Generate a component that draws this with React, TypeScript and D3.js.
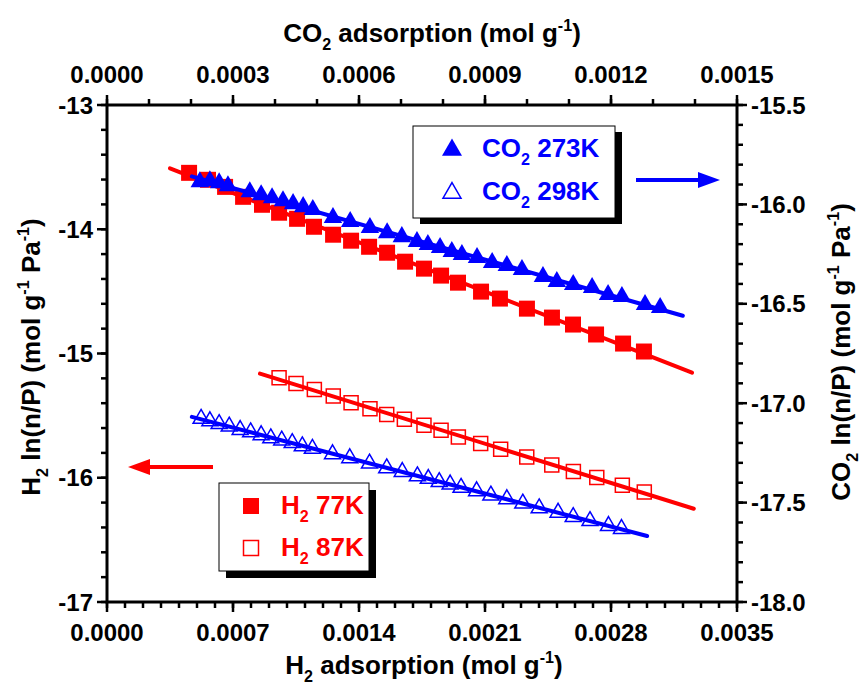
import React from 'react';
import * as d3 from 'd3';

const W = 866;
const H = 688;
const PL = 107, PR = 737, PT = 105, PB = 602;
const FONT = '"Liberation Sans", Arial, Helvetica, sans-serif';

// ---- tick labels ----
const bottomTicks = [0, 0.0007, 0.0014, 0.0021, 0.0028, 0.0035];
const bottomTickLabels = ['0.0000', '0.0007', '0.0014', '0.0021', '0.0028', '0.0035'];
const topTicks = [0, 0.0003, 0.0006, 0.0009, 0.0012, 0.0015];
const topTickLabels = ['0.0000', '0.0003', '0.0006', '0.0009', '0.0012', '0.0015'];
const leftTicks = [-13, -14, -15, -16, -17];
const leftTickLabels = ['-13', '-14', '-15', '-16', '-17'];
const rightTicks = [-15.5, -16.0, -16.5, -17.0, -17.5, -18.0];
const rightTickLabels = ['-15.5', '-16.0', '-16.5', '-17.0', '-17.5', '-18.0'];

// ---- H2 77K (bottom x, left y) ----
const h2_77_x = [0.000456, 0.000561, 0.000656, 0.000756, 0.000861, 0.000956, 0.001056, 0.00115, 0.001256, 0.001356, 0.001456, 0.001556, 0.001656, 0.001761, 0.001856, 0.00195, 0.002078, 0.002183, 0.002333, 0.002472, 0.002589, 0.002717, 0.002867, 0.002983];
const h2_77_y = [-13.546, -13.602, -13.659, -13.739, -13.803, -13.867, -13.916, -13.98, -14.044, -14.092, -14.141, -14.189, -14.261, -14.317, -14.373, -14.43, -14.502, -14.558, -14.639, -14.711, -14.767, -14.847, -14.92, -14.984];
const h2_77_fit = [0.00035, 0.00325];

// ---- H2 87K (bottom x, left y) ----
const h2_87_x = [0.000956, 0.00105, 0.001152, 0.001257, 0.001356, 0.001461, 0.001554, 0.001652, 0.001761, 0.001856, 0.001952, 0.002076, 0.002187, 0.002332, 0.002471, 0.002591, 0.002721, 0.002863, 0.002985];
const h2_87_y = [-15.195, -15.241, -15.289, -15.343, -15.396, -15.444, -15.49, -15.53, -15.578, -15.618, -15.672, -15.725, -15.771, -15.833, -15.897, -15.95, -15.998, -16.06, -16.114];
const h2_87_fit = [0.00085, 0.00326];

// ---- CO2 273K (top x, right y) ----
const co2_273_x = [0.000221, 0.000245, 0.000267, 0.000288, 0.00034, 0.000367, 0.000393, 0.000419, 0.000443, 0.000467, 0.00049, 0.000538, 0.000579, 0.000626, 0.000667, 0.000702, 0.000738, 0.000764, 0.000793, 0.000821, 0.000845, 0.000881, 0.000917, 0.000952, 0.000988, 0.001038, 0.001071, 0.00111, 0.001155, 0.001193, 0.001226, 0.001281, 0.001317];
const co2_273_y = [-15.887, -15.882, -15.892, -15.907, -15.937, -15.952, -15.967, -15.982, -15.997, -16.012, -16.027, -16.067, -16.087, -16.117, -16.143, -16.163, -16.188, -16.203, -16.218, -16.238, -16.253, -16.268, -16.293, -16.308, -16.328, -16.363, -16.389, -16.404, -16.419, -16.454, -16.464, -16.504, -16.519];
const co2_273_fit = [0.000202, 0.001371];

// ---- CO2 298K (top x, right y) ----
const co2_298_x = [0.000224, 0.000245, 0.000267, 0.000291, 0.000317, 0.000342, 0.000367, 0.00039, 0.000416, 0.000441, 0.000465, 0.000489, 0.000537, 0.000578, 0.000625, 0.000666, 0.000703, 0.000739, 0.000765, 0.000791, 0.000817, 0.000843, 0.00088, 0.000914, 0.000952, 0.00099, 0.001029, 0.001074, 0.00111, 0.00115, 0.001194, 0.001225];
const co2_298_y = [-17.078, -17.09, -17.104, -17.117, -17.134, -17.146, -17.16, -17.176, -17.187, -17.2, -17.216, -17.229, -17.256, -17.276, -17.303, -17.327, -17.345, -17.367, -17.38, -17.396, -17.408, -17.425, -17.442, -17.464, -17.482, -17.504, -17.528, -17.55, -17.572, -17.592, -17.617, -17.632];
const co2_298_fit = [0.000202, 0.001286];

const RED = '#FF0000';
const BLUE = '#0000FF';

const xB = d3.scaleLinear().domain([0, 0.0035]).range([PL, PR]);
const xT = d3.scaleLinear().domain([0, 0.0015]).range([PL, PR]);
const yL = d3.scaleLinear().domain([-17, -13]).range([PB, PT]);
const yR = d3.scaleLinear().domain([-18, -15.5]).range([PB, PT]);

function fitLine(xs: number[], ys: number[]) {
  const mx = d3.mean(xs)!;
  const my = d3.mean(ys)!;
  let sxy = 0, sxx = 0;
  xs.forEach((x, i) => { sxy += (x - mx) * (ys[i] - my); sxx += (x - mx) * (x - mx); });
  const b = sxy / sxx;
  const a = my - b * mx;
  return (x: number) => a + b * x;
}

type Part = { t: string; sub?: boolean; sup?: boolean };

function Rich({ parts, size, ...rest }: { parts: Part[]; size: number; [k: string]: any }) {
  const small = size * 0.62;
  let shift = 0;
  const spans: any[] = [];
  parts.forEach((p, i) => {
    let target = 0;
    if (p.sub) target = size * 0.32;
    if (p.sup) target = -size * 0.42;
    const dy = target - shift;
    shift = target;
    spans.push(
      <tspan key={i} dy={dy} fontSize={p.sub || p.sup ? small : size}>{p.t}</tspan>
    );
  });
  return <text fontFamily={FONT} fontWeight="bold" fontSize={size} {...rest}>{spans}</text>;
}

const tri = (side: number) => d3.symbol().type(d3.symbolTriangle).size(side * side * Math.sqrt(3) / 4)()!;
const sq = (side: number) => d3.symbol().type(d3.symbolSquare).size(side * side)()!;

export default function App() {
  const f77 = fitLine(h2_77_x, h2_77_y);
  const f87 = fitLine(h2_87_x, h2_87_y);
  const f273 = fitLine(co2_273_x, co2_273_y);
  const f298 = fitLine(co2_298_x, co2_298_y);

  const bMinor = d3.range(0, 0.00351, 0.0001);
  const tMinor = d3.range(0, 0.00151, 0.0001);
  const lMinor = d3.range(-17, -12.99, 0.2);
  const rMinor = d3.range(-18, -15.49, 0.1);

  const AX = 3;
  const tickFS = 24;
  const titleFS = 26;

  const triF = tri(18.5);
  const triO = tri(16);
  const sqF = sq(16);
  const sqO = sq(14);

  return (
    <svg width={W} height={H} style={{ position: 'absolute', left: 0, top: 0, background: '#fff' }}>
      <rect x={0} y={0} width={W} height={H} fill="#fff" />

      {/* H2 77K */}
      {h2_77_x.map((x, i) => (
        <path key={'a' + i} d={sqF} transform={`translate(${xB(x)},${yL(h2_77_y[i])})`} fill={RED} />
      ))}
      <line x1={xB(h2_77_fit[0])} y1={yL(f77(h2_77_fit[0]))} x2={xB(h2_77_fit[1])} y2={yL(f77(h2_77_fit[1]))} stroke={RED} strokeWidth={4} strokeLinecap="round" />

      {/* H2 87K */}
      {h2_87_x.map((x, i) => (
        <path key={'b' + i} d={sqO} transform={`translate(${xB(x)},${yL(h2_87_y[i])})`} fill="none" stroke={RED} strokeWidth={1.5} />
      ))}
      <line x1={xB(h2_87_fit[0])} y1={yL(f87(h2_87_fit[0]))} x2={xB(h2_87_fit[1])} y2={yL(f87(h2_87_fit[1]))} stroke={RED} strokeWidth={4} strokeLinecap="round" />

      {/* CO2 298K */}
      {co2_298_x.map((x, i) => (
        <path key={'d' + i} d={triO} transform={`translate(${xT(x)},${yR(co2_298_y[i])})`} fill="none" stroke={BLUE} strokeWidth={1.5} />
      ))}
      <line x1={xT(co2_298_fit[0])} y1={yR(f298(co2_298_fit[0]))} x2={xT(co2_298_fit[1])} y2={yR(f298(co2_298_fit[1]))} stroke={BLUE} strokeWidth={4} strokeLinecap="round" />

      {/* CO2 273K */}
      {co2_273_x.map((x, i) => (
        <path key={'c' + i} d={triF} transform={`translate(${xT(x)},${yR(co2_273_y[i])})`} fill={BLUE} />
      ))}
      <line x1={xT(co2_273_fit[0])} y1={yR(f273(co2_273_fit[0]))} x2={xT(co2_273_fit[1])} y2={yR(f273(co2_273_fit[1]))} stroke={BLUE} strokeWidth={4} strokeLinecap="round" />

      {/* frame */}
      <rect x={PL} y={PT} width={PR - PL} height={PB - PT} fill="none" stroke="#000" strokeWidth={AX} />

      {/* bottom ticks */}
      {bMinor.map((v, i) => (
        <line key={'bm' + i} x1={xB(v)} x2={xB(v)} y1={PB} y2={PB + 6} stroke="#000" strokeWidth={2.5} />
      ))}
      {bottomTicks.map((v, i) => (
        <g key={'bt' + i}>
          <line x1={xB(v)} x2={xB(v)} y1={PB} y2={PB + 10} stroke="#000" strokeWidth={2.5} />
          <text x={xB(v)} y={PB + 39} textAnchor="middle" fontFamily={FONT} fontWeight="bold" fontSize={tickFS}>{bottomTickLabels[i]}</text>
        </g>
      ))}
      {/* top ticks */}
      {tMinor.map((v, i) => (
        <line key={'tm' + i} x1={xT(v)} x2={xT(v)} y1={PT} y2={PT - 6} stroke="#000" strokeWidth={2.5} />
      ))}
      {topTicks.map((v, i) => (
        <g key={'tt' + i}>
          <line x1={xT(v)} x2={xT(v)} y1={PT} y2={PT - 10} stroke="#000" strokeWidth={2.5} />
          <text x={xT(v)} y={PT - 22} textAnchor="middle" fontFamily={FONT} fontWeight="bold" fontSize={tickFS}>{topTickLabels[i]}</text>
        </g>
      ))}
      {/* left ticks */}
      {lMinor.map((v, i) => (
        <line key={'lm' + i} x1={PL} x2={PL - 6} y1={yL(v)} y2={yL(v)} stroke="#000" strokeWidth={2.5} />
      ))}
      {leftTicks.map((v, i) => (
        <g key={'lt' + i}>
          <line x1={PL} x2={PL - 10} y1={yL(v)} y2={yL(v)} stroke="#000" strokeWidth={2.5} />
          <text x={PL - 14} y={yL(v) + 8.5} textAnchor="end" fontFamily={FONT} fontWeight="bold" fontSize={tickFS}>{leftTickLabels[i]}</text>
        </g>
      ))}
      {/* right ticks */}
      {rMinor.map((v, i) => (
        <line key={'rm' + i} x1={PR} x2={PR + 6} y1={yR(v)} y2={yR(v)} stroke="#000" strokeWidth={2.5} />
      ))}
      {rightTicks.map((v, i) => (
        <g key={'rt' + i}>
          <line x1={PR} x2={PR + 10} y1={yR(v)} y2={yR(v)} stroke="#000" strokeWidth={2.5} />
          <text x={PR + 14} y={yR(v) + 8.5} textAnchor="start" fontFamily={FONT} fontWeight="bold" fontSize={tickFS}>{rightTickLabels[i]}</text>
        </g>
      ))}

      {/* axis titles */}
      <Rich x={432} y={42} textAnchor="middle" size={titleFS}
        parts={[{ t: 'CO' }, { t: '2', sub: true }, { t: ' adsorption (mol g' }, { t: '-1', sup: true }, { t: ')' }]} />
      <Rich x={424} y={674} textAnchor="middle" size={titleFS}
        parts={[{ t: 'H' }, { t: '2', sub: true }, { t: ' adsorption (mol g' }, { t: '-1', sup: true }, { t: ')' }]} />
      <Rich x={0} y={0} textAnchor="middle" size={titleFS} transform="translate(40,357) rotate(-90)"
        parts={[{ t: 'H' }, { t: '2', sub: true }, { t: ' ln(n/P) (mol g' }, { t: '-1', sup: true }, { t: ' Pa' }, { t: '-1', sup: true }, { t: ')' }]} />
      <Rich x={0} y={0} textAnchor="middle" size={titleFS} transform="translate(850,352) rotate(-90)"
        parts={[{ t: 'CO' }, { t: '2', sub: true }, { t: ' ln(n/P) (mol g' }, { t: '-1', sup: true }, { t: ' Pa' }, { t: '-1', sup: true }, { t: ')' }]} />

      {/* CO2 legend */}
      <rect x={420} y={132} width={202} height={92} fill="#000" />
      <rect x={413} y={126} width={202} height={92} fill="#fff" stroke="#000" strokeWidth={1} />
      <path d={tri(20)} transform="translate(452,150)" fill={BLUE} />
      <Rich x={482} y={157} size={26} fill={BLUE} parts={[{ t: 'CO' }, { t: '2', sub: true }, { t: ' 273K' }]} />
      <path d={tri(18)} transform="translate(452,193)" fill="none" stroke={BLUE} strokeWidth={1.5} />
      <Rich x={482} y={200} size={26} fill={BLUE} parts={[{ t: 'CO' }, { t: '2', sub: true }, { t: ' 298K' }]} />
      {/* blue arrow */}
      <line x1={636} y1={180} x2={702} y2={180} stroke={BLUE} strokeWidth={4} />
      <path d="M720,180 L698,172 L698,188 Z" fill={BLUE} />

      {/* H2 legend */}
      <rect x={226} y={490} width={150} height={88} fill="#000" />
      <rect x={219} y={483} width={150} height={88} fill="#fff" stroke="#000" strokeWidth={1} />
      <path d={sq(16)} transform="translate(251,506)" fill={RED} />
      <Rich x={281} y={514} size={26} fill={RED} parts={[{ t: 'H' }, { t: '2', sub: true }, { t: ' 77K' }]} />
      <path d={sq(15)} transform="translate(251,548)" fill="none" stroke={RED} strokeWidth={1.5} />
      <Rich x={281} y={556} size={26} fill={RED} parts={[{ t: 'H' }, { t: '2', sub: true }, { t: ' 87K' }]} />
      {/* red arrow */}
      <line x1={213} y1={467} x2={148} y2={467} stroke={RED} strokeWidth={4} />
      <path d="M128,467 L150,459 L150,475 Z" fill={RED} />
    </svg>
  );
}
